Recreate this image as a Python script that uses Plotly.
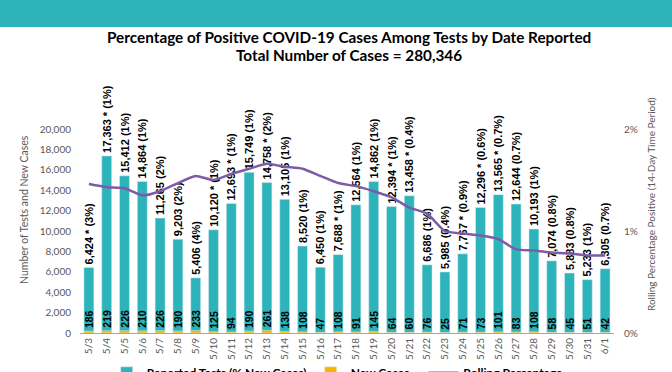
import plotly.graph_objects as go

dates = ["5/3", "5/4", "5/5", "5/6", "5/7", "5/8", "5/9", "5/10", "5/11", "5/12",
         "5/13", "5/14", "5/15", "5/16", "5/17", "5/18", "5/19", "5/20", "5/21", "5/22",
         "5/23", "5/24", "5/25", "5/26", "5/27", "5/28", "5/29", "5/30", "5/31", "6/1"]
tests = [6424, 17363, 15412, 14864, 11265, 9203, 5406, 10120, 12693, 15749,
         14758, 13105, 8520, 6450, 7688, 12564, 14862, 12394, 13458, 6686,
         5985, 7767, 12296, 13565, 12644, 10193, 7074, 5883, 5233, 6305]
starred = [1, 1, 0, 0, 0, 0, 0, 1, 1, 0,
           1, 0, 0, 0, 1, 0, 0, 1, 1, 0,
           0, 1, 1, 1, 0, 0, 0, 0, 0, 0]
pct_new = ["3%", "1%", "1%", "1%", "2%", "2%", "4%", "1%", "1%", "1%",
           "2%", "1%", "1%", "1%", "1%", "1%", "1%", "1%", "0.4%", "1%",
           "0.4%", "0.9%", "0.6%", "0.7%", "0.7%", "1%", "0.8%", "0.8%", "1%", "0.7%"]
new_cases = [186, 219, 226, 210, 226, 190, 233, 125, 94, 190,
             261, 138, 108, 47, 108, 91, 145, 64, 60, 76,
             25, 71, 73, 101, 83, 108, 58, 45, 51, 42]
rolling_pct = [1.46, 1.43, 1.42, 1.35, 1.39, 1.47, 1.54, 1.50, 1.56, 1.61,
               1.66, 1.63, 1.61, 1.54, 1.47, 1.44, 1.39, 1.33, 1.23, 1.17,
               1.00, 0.975, 0.955, 0.92, 0.82, 0.81, 0.79, 0.78, 0.76, 0.76]

test_labels = [f"{t:,}{' *' if s else ''} ({p})" for t, s, p in zip(tests, starred, pct_new)]

TEAL = "#2DB4BB"
ORANGE = "#F4B400"
PURPLE = "#7E5BA8"
GRAY = "#595959"
FONT = "Lato"

fig = go.Figure()
fig.add_trace(go.Bar(
    x=dates, y=tests, name="Reported Tests (% New Cases)", marker_color=TEAL,
    text=test_labels, textposition="outside", textangle=-90, constraintext="none",
    cliponaxis=False,
    textfont=dict(family="Liberation Sans", size=11, color="black", weight="bold"),
    legend="legend", hoverinfo="skip"))
fig.add_trace(go.Bar(
    x=dates, y=new_cases, name="New Cases", marker_color=ORANGE,
    text=[str(v) for v in new_cases], textposition="outside", textangle=-90,
    constraintext="none", cliponaxis=False,
    textfont=dict(family="Liberation Sans", size=10.5, color="black", weight="bold"),
    legend="legend2", hoverinfo="skip"))
fig.add_trace(go.Scatter(
    x=dates, y=[v / 100 for v in rolling_pct], name="Rolling Percentage", yaxis="y2",
    mode="lines", line=dict(color=PURPLE, width=2.5, shape="spline", smoothing=0.6),
    legend="legend3", hoverinfo="skip"))

leg_common = dict(orientation="h", yanchor="middle", y=-0.195, xanchor="left",
                  font=dict(family=FONT, size=12, color="black", weight="bold"),
                  bgcolor="rgba(0,0,0,0)", itemclick=False)

fig.update_layout(
    width=672, height=372,
    margin=dict(l=80, r=58, t=129, b=39, autoexpand=False),
    paper_bgcolor="white", plot_bgcolor="white",
    barmode="overlay", bargap=0.44,
    showlegend=True,
    legend=dict(x=0.05, **leg_common),
    legend2=dict(x=0.432, **leg_common),
    legend3=dict(x=0.643, **leg_common),
    xaxis=dict(type="category", tickangle=-90, showgrid=False, showline=True,
               linecolor="#A6A6A6", linewidth=1, ticks="",
               tickfont=dict(family=FONT, size=10, color=GRAY)),
    yaxis=dict(range=[0, 20000], dtick=2000, tickformat=",", showgrid=False,
               zeroline=False, showline=False, ticklabelstandoff=8,
               tickfont=dict(family=FONT, size=10, color=GRAY)),
    yaxis2=dict(range=[0, 0.02], dtick=0.01, tickformat=".0%", overlaying="y",
                side="right", showgrid=False, zeroline=False, showline=False,
                ticklabelstandoff=9,
                tickfont=dict(family=FONT, size=10, color=GRAY)),
    shapes=[dict(type="rect", xref="paper", yref="paper", x0=-0.3, x1=1.3,
                 y0=1.5, y1=1.75, fillcolor=TEAL, line_width=0, layer="below")],
    annotations=[
        dict(text="<b>Percentage of Positive COVID-19 Cases Among Tests by Date Reported</b>",
             xref="paper", yref="paper", x=0.504, y=(333 - 37) / 204, showarrow=False,
             xanchor="center", yanchor="middle",
             font=dict(family=FONT, size=15.3, color="black")),
        dict(text="<b>Total Number of Cases = 280,346</b>",
             xref="paper", yref="paper", x=0.504, y=(333 - 55) / 204, showarrow=False,
             xanchor="center", yanchor="middle",
             font=dict(family=FONT, size=15.3, color="black")),
        dict(text="Number of Tests and New Cases", textangle=-90,
             xref="paper", yref="paper", x=(24 - 80) / 534, y=(333 - 210) / 204,
             showarrow=False, xanchor="center", yanchor="middle",
             font=dict(family=FONT, size=10.5, color=GRAY)),
        dict(text="Rolling Percentage Positive (14-Day Time Period)", textangle=-90,
             xref="paper", yref="paper", x=(651 - 80) / 534, y=(333 - 204) / 204,
             showarrow=False, xanchor="center", yanchor="middle",
             font=dict(family=FONT, size=10, color=GRAY)),
    ],
)

fig.write_html("out.html", config={"displayModeBar": False, "staticPlot": True},
               post_script="document.body.style.margin='0';document.body.style.overflow='hidden';")
